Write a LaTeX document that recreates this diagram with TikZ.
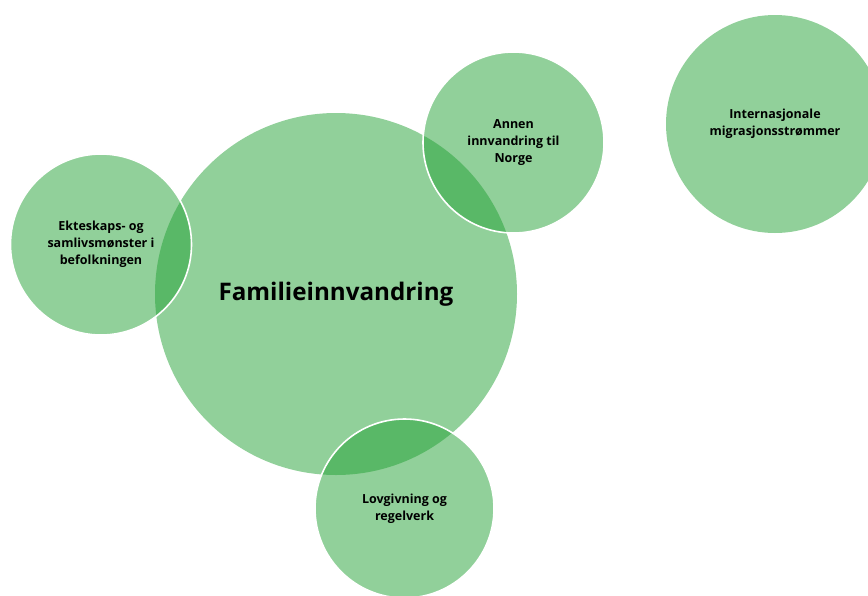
\documentclass[tikz,border=0pt]{standalone}
\usepackage{fontspec}
\setmainfont{Open Sans}
\usetikzlibrary{positioning}
\definecolor{venngreen}{RGB}{35,161,53}

\begin{document}
\begin{tikzpicture}[
            x=1pt, y=-1pt,
            bubble/.style={
                circle, fill=venngreen, fill opacity=0.5, text opacity=1,
                inner sep=0pt, minimum size=#1, align=center,
                font=\bfseries\fontsize{12.5}{17}\selectfont
            },
            topic/.style={bubble=#1, draw=white, line width=1.6pt, draw opacity=1}
        ]
        \useasboundingbox (0, 0) rectangle (868, 595);
        \clip (0, 0) rectangle (868, 595);

        % main circle first, the others lie over it
        \node(family)[bubble=362pt, font=\bfseries\fontsize{24.2}{28}\selectfont] at (336, 294) {Familieinnvandring};

        \node(marriage)[topic=181pt] at (101, 244.5) {Ekteskaps- og\\samlivsmønster i\\befolkningen};
        \node(other)[topic=181pt] at (513.5, 142.5) {Annen\\innvandring til\\Norge};
        \node(law)[topic=179pt] at (404.5, 508.5) {Lovgivning og\\regelverk};
        \node(global)[bubble=218pt] at (775, 124) {Internasjonale\\migrasjonsstrømmer};
    \end{tikzpicture}
\end{document}
